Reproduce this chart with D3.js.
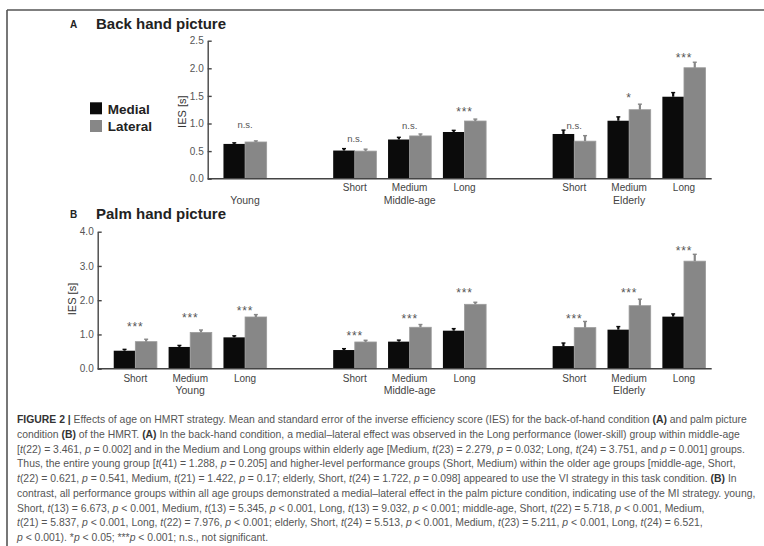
<!DOCTYPE html>
<html><head><meta charset="utf-8">
<script src="https://cdn.jsdelivr.net/npm/d3@7"></script>
<style>body{margin:0;background:#fff;} svg{display:block;}</style>
</head><body><svg id="c" width="764" height="546"></svg>
<script>
// ---------- data ----------
const ageGroups = ["Young", "Middle-age", "Elderly"];
const perfGroups = ["Short", "Medium", "Long"];
const seriesNames = ["Medial", "Lateral"];

// Panel A: Back hand picture
const backAge  = ["Young", "Middle-age", "Middle-age", "Middle-age", "Elderly", "Elderly", "Elderly"];
const backPerf = [null, "Short", "Medium", "Long", "Short", "Medium", "Long"];
const backMedial    = [0.63, 0.51, 0.71, 0.846, 0.81, 1.05, 1.485];
const backMedialSE  = [0.02, 0.035, 0.04, 0.03, 0.07, 0.07, 0.075];
const backLateral   = [0.665, 0.50, 0.775, 1.045, 0.68, 1.25, 2.01];
const backLateralSE = [0.02, 0.035, 0.035, 0.035, 0.10, 0.10, 0.10];
const backSig  = ["n.s.", "n.s.", "n.s.", "***", "n.s.", "*", "***"];
const backSigY = [0.97, 0.71, 0.96, 1.26, 0.96, 1.52, 2.25];
const backTicks = [0, 0.5, 1.0, 1.5, 2.0, 2.5];

// Panel B: Palm hand picture
const palmAge  = ["Young", "Young", "Young", "Middle-age", "Middle-age", "Middle-age", "Elderly", "Elderly", "Elderly"];
const palmPerf = ["Short", "Medium", "Long", "Short", "Medium", "Long", "Short", "Medium", "Long"];
const palmMedial    = [0.525, 0.635, 0.915, 0.545, 0.79, 1.11, 0.66, 1.14, 1.52];
const palmMedialSE  = [0.04, 0.045, 0.045, 0.04, 0.045, 0.06, 0.09, 0.09, 0.08];
const palmLateral   = [0.79, 1.06, 1.51, 0.78, 1.21, 1.88, 1.20, 1.84, 3.14];
const palmLateralSE = [0.07, 0.07, 0.07, 0.05, 0.08, 0.06, 0.18, 0.19, 0.20];
const palmSig  = ["***", "***", "***", "***", "***", "***", "***", "***", "***"];
const palmSigY = [1.30, 1.57, 1.78, 1.05, 1.55, 2.29, 1.55, 2.29, 3.52];
const palmTicks = [0, 1.0, 2.0, 3.0, 4.0];

const captionLines = [
 "^FIGURE 2 |^ Effects of age on HMRT strategy. Mean and standard error of the inverse efficiency score (IES) for the back-of-hand condition ^(A)^ and palm picture",
 "condition ^(B)^ of the HMRT. ^(A)^ In the back-hand condition, a medial–lateral effect was observed in the Long performance (lower-skill) group within middle-age",
 "[~t~(22) = 3.461, ~p~ = 0.002] and in the Medium and Long groups within elderly age [Medium, ~t~(23) = 2.279, ~p~ = 0.032; Long, ~t~(24) = 3.751, and ~p~ = 0.001] groups.",
 "Thus, the entire young group [~t~(41) = 1.288, ~p~ = 0.205] and higher-level performance groups (Short, Medium) within the older age groups [middle-age, Short,",
 "~t~(22) = 0.621, ~p~ = 0.541, Medium, ~t~(21) = 1.422, ~p~ = 0.17; elderly, Short, ~t~(24) = 1.722, ~p~ = 0.098] appeared to use the VI strategy in this task condition. ^(B)^ In",
 "contrast, all performance groups within all age groups demonstrated a medial–lateral effect in the palm picture condition, indicating use of the MI strategy. young,",
 "Short, ~t~(13) = 6.673, ~p~ < 0.001, Medium, ~t~(13) = 5.345, ~p~ < 0.001, Long, ~t~(13) = 9.032, ~p~ < 0.001; middle-age, Short, ~t~(22) = 5.718, ~p~ < 0.001, Medium,",
 "~t~(21) = 5.837, ~p~ < 0.001, Long, ~t~(22) = 7.976, ~p~ < 0.001; elderly, Short, ~t~(24) = 5.513, ~p~ < 0.001, Medium, ~t~(23) = 5.211, ~p~ < 0.001, Long, ~t~(24) = 6.521,",
 "~p~ < 0.001). *~p~ < 0.05; ***~p~ < 0.001; n.s., not significant."
];

// ---------- layout ----------
const svg = d3.select("#c");
const FONT = "'Liberation Sans', Arial, sans-serif";
const colors = {Medial: "#0b0b0b", Lateral: "#878787"};
const xRight = 711.7;

// frame
svg.append("line").attr("x1", 7).attr("x2", 764).attr("y1", 10).attr("y2", 10).attr("stroke", "#555").attr("stroke-width", 1.6);
svg.append("line").attr("x1", 7).attr("x2", 7).attr("y1", 10).attr("y2", 546).attr("stroke", "#555").attr("stroke-width", 1.6);

const ageX = d3.scaleBand().domain(ageGroups).range([107.9, 711.4]).paddingInner(0.25).paddingOuter(0);
const perfX = d3.scaleBand().domain(perfGroups).range([0, ageX.bandwidth()]);
const subX = d3.scaleBand().domain(seriesNames).range([-21.6, 21.6]);
const singleSlot = "Long"; // slot used by a group drawn with a single pair
function centerX(age, perf) {
  return ageX(age) + perfX(perf == null ? singleSlot : perf) + perfX.bandwidth() / 2;
}

const panels = [
  {letter: "A", title: "Back hand picture", titleY: 29.3, age: backAge, perf: backPerf,
   med: backMedial, medSE: backMedialSE, lat: backLateral, latSE: backLateralSE,
   sig: backSig, sigY: backSigY, ticks: backTicks, fmt: d3.format(".1f"),
   yMax: 2.5, yTop: 40.7, yBot: 178.7, axisX: 207.7, lab1: 191.2, lab2: 203.5, ytX: 186, ytY: 111.7},
  {letter: "B", title: "Palm hand picture", titleY: 218.5, age: palmAge, perf: palmPerf,
   med: palmMedial, medSE: palmMedialSE, lat: palmLateral, latSE: palmLateralSE,
   sig: palmSig, sigY: palmSigY, ticks: palmTicks, fmt: d3.format(".1f"),
   yMax: 4.0, yTop: 231.7, yBot: 368.7, axisX: 97.7, lab1: 381.7, lab2: 394, ytX: 76, ytY: 299}
];

panels.forEach(p => {
  const g = svg.append("g");
  g.append("text").attr("x", 70).attr("y", p.titleY - 1).attr("font-family", FONT).attr("font-weight", "bold")
    .attr("font-size", 10).attr("fill", "#222").text(p.letter);
  g.append("text").attr("x", 96).attr("y", p.titleY).attr("font-family", FONT).attr("font-weight", "bold")
    .attr("font-size", 15).attr("fill", "#222").text(p.title);

  const y = d3.scaleLinear().domain([0, p.yMax]).range([p.yBot, p.yTop]);

  // y axis
  const ax = g.append("g").attr("transform", `translate(${p.axisX},0)`)
    .call(d3.axisLeft(y).tickValues(p.ticks).tickFormat(p.fmt).tickSizeInner(-4).tickSizeOuter(0).tickPadding(4));
  ax.select(".domain").attr("stroke", "#444").attr("stroke-width", 1.4);
  ax.selectAll(".tick line").attr("stroke", "#444").attr("stroke-width", 1.4);
  ax.selectAll(".tick text").attr("font-family", FONT).attr("font-size", 10).attr("fill", "#555");

  g.append("text").attr("transform", `translate(${p.ytX},${p.ytY}) rotate(-90)`).attr("text-anchor", "middle")
    .attr("font-family", FONT).attr("font-size", 11).attr("fill", "#333").text("IES [s]");

  // rows
  const rows = p.med.map((v, i) => ({age: p.age[i], perf: p.perf[i], cx: centerX(p.age[i], p.perf[i]),
    vals: [{s: "Medial", v: v, se: p.medSE[i]}, {s: "Lateral", v: p.lat[i], se: p.latSE[i]}],
    sig: p.sig[i], sigY: p.sigY[i]}));

  rows.forEach(r => {
    r.vals.forEach(d => {
      const x0 = r.cx + subX(d.s);
      g.append("rect").attr("x", x0).attr("width", subX.bandwidth())
        .attr("y", y(d.v)).attr("height", y(0) - y(d.v)).attr("fill", colors[d.s])
        .attr("stroke", d.s === "Lateral" ? "#9c9c9c" : "none").attr("stroke-width", 0.8);
      const xc = x0 + subX.bandwidth() / 2;
      g.append("line").attr("x1", xc).attr("x2", xc).attr("y1", y(d.v)).attr("y2", y(d.v + d.se))
        .attr("stroke", colors[d.s]).attr("stroke-width", 2.2);
      g.append("line").attr("x1", xc - 2).attr("x2", xc + 2).attr("y1", y(d.v + d.se)).attr("y2", y(d.v + d.se))
        .attr("stroke", colors[d.s]).attr("stroke-width", 1.4);
    });
    const isStar = r.sig.indexOf("*") === 0;
    g.append("text").attr("x", r.cx).attr("y", y(r.sigY) + (isStar ? 7 : 2.8)).attr("text-anchor", "middle")
      .attr("font-family", FONT).attr("font-size", isStar ? 12 : 9.5).attr("letter-spacing", isStar ? 0.8 : 0)
      .attr("fill", "#555").text(r.sig);
    if (r.perf) {
      g.append("text").attr("x", r.cx).attr("y", p.lab1).attr("text-anchor", "middle")
        .attr("font-family", FONT).attr("font-size", 10).attr("fill", "#444").text(r.perf);
    }
  });

  // group labels
  ageGroups.forEach(a => {
    const rs = rows.filter(r => r.age === a);
    const cx = rs.length === 1 ? rs[0].cx : ageX(a) + ageX.bandwidth() / 2;
    g.append("text").attr("x", cx).attr("y", p.lab2).attr("text-anchor", "middle")
      .attr("font-family", FONT).attr("font-size", 10.5).attr("fill", "#444").text(a);
  });

  // baseline
  g.append("line").attr("x1", p.axisX).attr("x2", xRight).attr("y1", y(0)).attr("y2", y(0))
    .attr("stroke", "#444").attr("stroke-width", 1.4);
});

// legend
seriesNames.forEach((s, i) => {
  svg.append("rect").attr("x", 90).attr("y", 102.3 + i * 17.7).attr("width", 12).attr("height", 12).attr("fill", colors[s]);
  svg.append("text").attr("x", 107.7).attr("y", 113.5 + i * 17.9).attr("font-family", FONT).attr("font-weight", "bold")
    .attr("font-size", 13.5).attr("fill", "#222").text(s);
});

// caption
const cap = svg.append("g").attr("font-family", FONT).attr("fill", "#555");
const capTexts = captionLines.map((line, i) => {
  const t = cap.append("text").attr("x", 17).attr("y", 423 + i * 14.75).attr("font-size", 10);
  line.split(/(\^[^^]+\^|~[^~]+~)/).filter(s => s.length).forEach(seg => {
    const ts = t.append("tspan");
    if (seg[0] === "^") ts.attr("font-weight", "bold").attr("fill", "#333").text(seg.slice(1, -1));
    else if (seg[0] === "~") ts.attr("font-style", "italic").text(seg.slice(1, -1));
    else ts.text(seg);
  });
  return t;
});
const w0 = capTexts[0].node().getComputedTextLength();
const fs = 10 * (748 - 17) / w0;
capTexts.forEach(t => t.attr("font-size", fs));
</script>
</body></html>
